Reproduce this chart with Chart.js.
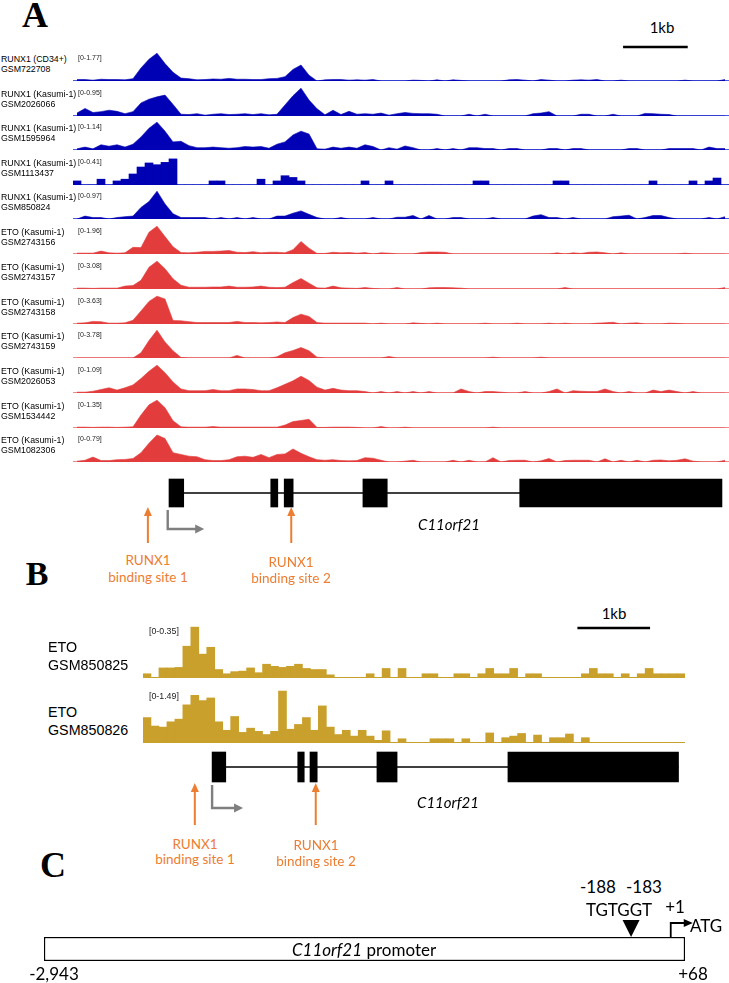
<!DOCTYPE html>
<html>
<head>
<meta charset="utf-8">
<script src="https://cdn.jsdelivr.net/npm/chart.js@4.4.1/dist/chart.umd.min.js"></script>
<style>
  html, body { margin: 0; padding: 0; background: #fff; }
  #page { position: relative; width: 729px; height: 983px; overflow: hidden; color: #000;
          font-family: "Liberation Sans", Arial, sans-serif; }
  .box { position: absolute; }
  .t { position: absolute; white-space: nowrap; line-height: 1; }
</style>
</head>
<body>
<div id="page"></div>
<script>
/* C11orf21 locus: ChIP-seq tracks (A, B) and promoter schematic (C).
   Track values are signal per 8 px bin, in tenths of each track's data range. */

// ---- panel A: RUNX1 tracks ----
var RUNX1_GSM722708 = [0.5,0.5,0.3,0.6,0.5,0.5,0.4,0.8,4.5,7.5,9.6,6,3,1,
  0.8,0.4,0.5,0.7,0.6,0.9,0.6,0.6,0.5,0.5,0.8,0.9,1.5,4,5.5,2,0,0.4,0.5,0.5,0.3,0.4,
  0.3,0.5,0,0,0,0,0.3,0.2,0,0.4,0,0.4,0.2,0,0,0,0,0,0.4,0.5,0.3,0,0.5,0.3,
  0,0,0.3,0.4,0.3,0.5,0,0,0.3,0,0,0,0,0,0,0,0.3,0,0,0,0,0.5];
var RUNX1_GSM2026066 = [1.0,2.6,1.2,1.5,2.0,1.6,0.8,1.5,4.5,5.8,6.6,7.2,4.0,0.6,
  0.5,0.8,0.3,0.6,0.8,0.5,0.6,0.8,0.5,0.8,0.4,0.6,3.8,7.0,9.6,5.5,2.5,0.4,2.0,0.5,1.6,0.6,
  0.8,0.6,1.0,0.3,0.8,1.2,0.9,0.8,0.8,0.6,0,0,0,0.6,0,0.6,0,0,0,0,
  0,0.8,1.0,1.5,0,0,0,0.6,0.6,0,0,0.6,0,0,0,0.9,0.8,0.6,0.5,0,0,0,0,0,0,0];
var RUNX1_GSM1595964 = [0.4,1.0,0.4,1.8,1.3,1.8,1.0,2.0,4.5,7.5,9.6,6.5,2.8,3.0,
  1.5,0.8,0.8,1.0,0.8,0.6,0.8,1.2,1.0,1.2,0.6,2.0,2.8,5.2,6.5,5.5,0.4,0.3,1.0,0.6,1.0,0.6,
  1.8,1.2,0,0.8,0.3,1.4,0.8,0,0,0.5,0,0.5,0,0.8,0.8,0.5,0.5,0,0.5,0.5,
  0,0,0,0.5,0.5,0,0.5,0.5,0,0,0,0,0,0.5,0.5,0,0,0,0.5,0.5,0.5,0.5,0,1.0,0.5,0.5];
var RUNX1_GSM1113437 = [1.4,0,0,2.0,0,1.4,2.0,3.8,6.2,7.6,7.0,7.8,9.0,0,
  0,0,0,1.4,1.4,0,0,0,0,2.0,0,1.4,3.2,2.6,1.4,0,0,0,0,0,0,0,
  1.4,0,0,1.4,0,0,0,0,0,0,0,0,0,0,1.4,1.4,0,0,0,0,
  0,0,0,0,1.4,1.4,0,0,0,0,0,0,0,0,0,0,1.4,0,0,0,0,1.4,0,1.4,2.4,0];
var RUNX1_GSM850824 = [0,1.0,0.5,0.5,0,0.5,0.8,1.0,4.0,6.0,9.6,5.2,1.8,0.5,
  0.5,0.5,0.5,0,0.5,0,0.5,0,0.5,0,0,1.0,1.0,2.0,2.8,1.6,0.5,0,0,0.5,0,0,
  0,0.5,0,0,0.6,0.6,1.2,0,1.2,0,0,0.5,0.5,0,0,0,0.5,0,0,0,
  0,1.0,1.5,0.5,0.5,0,0.5,0,0,0,0,0.8,1.0,1.3,0,0.5,1.2,1.2,0.5,0,0,0,0,0.5,0,0.8];

// ---- panel A: ETO tracks ----
var ETO_GSM2743156 = [0.3,0.3,0.3,1.0,0.4,0.3,0.4,2.3,2.2,7.5,9.6,6.0,2.5,0.5,
  0.4,0.6,0.9,0.9,1.0,1.2,0.6,0.5,0.8,0.4,0.6,0.6,0.4,1.5,4.3,2.0,0.2,0.2,0.6,0.4,0.5,0.3,
  0.5,0,0.4,0.3,0,0,0,0.5,0.7,0.7,0.6,0,0,0,0,0,0,0,0,0,
  0,0,0,0,0.4,0,0.4,0.2,0.6,0.7,0.4,0,0.4,0,0,0,0,0,0,0,0.3,0,0,0,0,0];
var ETO_GSM2743157 = [0.3,0.3,0.2,0.3,0.3,0.3,1.0,1.2,3.0,7.5,9.6,7.0,3.5,1.3,
  0.6,0.6,0.6,0.7,0.7,1.0,0.6,0.6,0.7,1.0,0.6,0.5,0.6,2.2,3.6,2.0,0.4,0.3,1.0,0.4,0.3,0.2,
  0.5,0.2,0,0,0.5,0,0,0,0.4,0.5,0.5,0.4,0.3,0,0,0,0,0,0,0,
  0,0,0,0,0,0.5,0,0,0,0,0,0,0,0,0,0,0,0,0,0,0,0,0,0,0,0.5];
var ETO_GSM2743158 = [0.3,0.4,0.9,0.8,0.3,0.3,0.4,1.3,4.5,7.8,9.6,8.6,1.2,1.1,
  0.8,0.5,0.5,0.5,0.5,0.5,0.9,0.5,0.5,0.4,0.5,0.7,0.5,2.2,3.4,2.6,0.5,0.3,0.3,0.3,0.3,0.3,
  0.3,0,0.3,0,0,0,0.4,0.2,0,0.3,0,0,0,0,0,0.3,0,0,0,0.3,
  0,0,0,0.3,0,0.3,0,0,0,0.3,0.4,0.6,0,0.3,0.4,0,0,0,0.3,0.2,0,0,0,0,0,0];
var ETO_GSM2743159 = [0,0,0,0,0,0,0,0,1.8,6.0,9.6,5.5,2.5,0.2,
  0,0,0,0,0,0,0.9,0,0,0,0,0.4,1.8,2.6,3.6,2.5,0.3,0,0,0,0,0,
  0,0,0,0.5,0,0,0,0,0,0,0,0,0,0,0,0,0.3,0,0,0,
  0,0,0.3,0,0,0,0,0,0,0,0,0,0,0,0,0,0,0,0,0,0,0,0,0,0,0];
var ETO_GSM2026053 = [0.3,0.3,0.6,1.2,1.8,1.0,1.8,2.8,5.0,7.5,9.6,7.0,3.8,1.4,
  0.8,0.8,0.8,1.2,0.8,0.8,1.4,1.4,1.2,0.8,0.8,1.8,3.0,4.2,5.8,4.3,2.0,1.0,1.6,1.0,0.8,0.8,
  0.5,0,0.5,0,0.5,0,0.5,0,0.5,0,0,0,1.4,0.5,0,0.5,0.5,0.3,0,0,
  0.5,0,0,0.5,1.4,0,0.8,0.6,0.5,0.5,1.4,0.5,0,0.5,0,0,1.0,0.5,1.0,0.5,0,0.5,0,0,0,0];
var ETO_GSM1534442 = [0.3,0.3,0.2,0.3,0.3,0.2,0.3,0.4,4.5,8.0,9.6,7.0,2.5,0.4,
  0.3,0.3,0.3,0.5,0.3,0.3,0.3,0.3,0.3,0.3,0.3,0.3,1.0,2.2,2.6,3.0,0.2,0.2,0.3,0.3,0.3,0.2,
  0,0,0.5,0,0,0.3,0,0,0,0,0,0,0,0,0,0,0.3,0,0,0,
  0,0,0,0,0,0,0,0,0,0,0,0,0,0,0,0,0,0,0,0,0,0,0,0,0,0];
var ETO_GSM1082306 = [0.3,0.6,1.7,0.5,0.5,0.8,0.9,1.2,3.2,6.5,9.3,8.1,3.2,2.6,
  2.0,1.8,0.8,0.5,0.5,0.8,1.8,2.0,1.6,2.6,1.5,2.6,2.8,4.5,3.0,1.8,0.8,0.6,0.8,0.5,0.4,0.5,
  1.5,1.3,0.6,0,0,0.3,0.6,0,0,0,0,0.6,0,0.6,0,0,1.5,0,0.5,0.6,
  0.6,0,0.4,1.2,0,0.5,0.6,0.6,0.6,0,1.1,0,0.6,0,0.6,0,0.6,0.7,0.4,0.6,1.1,0.3,0,0,0,0.6];

var TRACK_A_FACTOR = ["RUNX1 (CD34+)", "RUNX1 (Kasumi-1)", "RUNX1 (Kasumi-1)", "RUNX1 (Kasumi-1)",
  "RUNX1 (Kasumi-1)", "ETO (Kasumi-1)", "ETO (Kasumi-1)", "ETO (Kasumi-1)", "ETO (Kasumi-1)",
  "ETO (Kasumi-1)", "ETO (Kasumi-1)", "ETO (Kasumi-1)"];
var TRACK_A_GSM = ["GSM722708", "GSM2026066", "GSM1595964", "GSM1113437", "GSM850824",
  "GSM2743156", "GSM2743157", "GSM2743158", "GSM2743159", "GSM2026053", "GSM1534442", "GSM1082306"];
var TRACK_A_RANGE = ["[0-1.77]", "[0-0.95]", "[0-1.14]", "[0-0.41]", "[0-0.97]", "[0-1.96]",
  "[0-3.08]", "[0-3.63]", "[0-3.78]", "[0-1.09]", "[0-1.35]", "[0-0.79]"];
var TRACK_A_VALUES = [RUNX1_GSM722708, RUNX1_GSM2026066, RUNX1_GSM1595964, RUNX1_GSM1113437,
  RUNX1_GSM850824, ETO_GSM2743156, ETO_GSM2743157, ETO_GSM2743158, ETO_GSM2743159,
  ETO_GSM2026053, ETO_GSM1534442, ETO_GSM1082306];
// GSM1113437 is binned coarsely in the source, so it keeps a block (bar) look
var TRACK_A_BLOCKY = [false, false, false, true, false, false, false, false, false, false, false, false];

// ---- panel B: ETO tracks ----
var ETO_GSM850825 = [0.8,0,1.9,1.9,2.0,6.0,9.6,4.5,5.8,1.6,
  0.8,1.2,1.3,1.9,1.0,2.6,2.2,2.0,2.2,2.6,1.8,1.6,1.6,0.6,0,0,0,0,0.8,0,
  1.8,0,1.8,0,0,0.8,0.8,0,0,0.8,0.8,0,0.8,1.8,0.8,0.8,1.8,0,0.8,0.8,
  0,0,0,0,0,0.8,1.8,0.8,0.8,0,0.8,0,0.8,1.8,0.8,0.8,0.8,0.8];
var ETO_GSM850826 = [4.8,3.2,3.0,4.0,4.5,7.2,9.0,8.0,8.5,4.0,
  2.4,5.0,2.0,2.8,2.2,1.6,2.2,9.8,2.6,3.5,4.8,2.4,7.0,3.0,1.6,2.4,1.3,2.4,1.3,0.5,
  2.3,0,0.8,0,0,0,0.8,0.8,0.8,0,0.8,0,0,1.9,0,1.0,1.3,1.8,0,1.5,
  0,1.0,1.0,1.7,0,1.0,0,0,0,0,0,0,0,0,0,0,0,0];
var TRACK_B_GSM = ["GSM850825", "GSM850826"];
var TRACK_B_RANGE = ["[0-0.35]", "[0-1.49]"];
var TRACK_B_VALUES = [ETO_GSM850825, ETO_GSM850826];

// ---- gene model, kb from the left edge of each panel's window ----
var SPAN_A_KB = 10.25, SPAN_B_KB = 7.53;
var EXONS_A = [[1.50, 1.73], [3.09, 3.20], [3.30, 3.44], [4.53, 4.91], [6.98, 10.14]];
var EXONS_B = [[0.96, 1.15], [2.15, 2.24], [2.32, 2.42], [3.25, 3.53], [5.07, 7.44]];
var TSS_A = [1.48, 2.05], TSS_B = [0.96, 1.39];          // start, arrow end
var SITES_A = [1.17, 3.41], SITES_B = [0.72, 2.40];      // RUNX1 binding sites 1, 2
var SCALEBAR_A = [8.6, 9.6], SCALEBAR_B = [6.04, 7.04];  // 1 kb

// ---- panel C: promoter, bp relative to ATG ----
var PROMOTER = [-2943, 68];
var MOTIF = [-188, -183];   // TGTGGT
var START_BP = 1;

// ---- layout ----
var BASE_A = [80, 115, 149, 184, 218, 253, 288, 323, 357, 392, 427, 461];
var BASE_B = [677, 742];
var BLUE = "#0000b4", BLUE_LINE = "#4a5ae0";
var RED = "#e33c3c", RED_LINE = "#f08a8a";
var GOLD = "#c9a02c";
var ORANGE = "#ed7d31", GREY = "#7f7f7f";
var CAL = "Lato, 'Open Sans', sans-serif";

var page = document.getElementById("page");

function canvasAt(x, y, w, h) {
  var d = document.createElement("div");
  d.className = "box";
  d.style.left = x + "px"; d.style.top = y + "px";
  d.style.width = w + "px"; d.style.height = h + "px";
  var c = document.createElement("canvas");
  d.appendChild(c);
  page.appendChild(d);
  return c;
}

function text(str, x, y, size, o) {
  o = o || {};
  var s = document.createElement("div");
  s.className = "t";
  s.innerHTML = str;
  s.style.left = x + "px"; s.style.top = y + "px";
  s.style.fontSize = size + "px";
  if (o.font) s.style.fontFamily = o.font;
  if (o.color) s.style.color = o.color;
  if (o.bold) s.style.fontWeight = "bold";
  if (o.italic) s.style.fontStyle = "italic";
  s.style.transform = o.left ? "translateY(-50%)" : "translate(-50%, -50%)";
  page.appendChild(s);
}

var baseline = {
  id: "baseline",
  beforeDatasetsDraw: function (chart, args, opts) {
    var ctx = chart.ctx, a = chart.chartArea;
    var y = chart.scales.y.getPixelForValue(0) - 0.5;
    ctx.save();
    ctx.strokeStyle = opts.color; ctx.lineWidth = opts.width || 1.2;
    ctx.beginPath(); ctx.moveTo(a.left, y); ctx.lineTo(a.right, y); ctx.stroke();
    ctx.restore();
  }
};

// bars for blocky signal, a filled area for smoother coverage
function trackChart(c, values, color, lineColor, blocky) {
  var ds = blocky
    ? { type: "bar", data: values, backgroundColor: color, borderWidth: 0, barPercentage: 1, categoryPercentage: 1 }
    : { type: "line", data: values, backgroundColor: color, borderColor: color, borderWidth: 0.6,
        pointRadius: 0, tension: 0, fill: "origin" };
  return new Chart(c, {
    type: "bar",
    data: { labels: values.map(function (_, i) { return i; }), datasets: [ds] },
    options: {
      responsive: true, maintainAspectRatio: false, animation: false, events: [],
      plugins: { legend: { display: false }, tooltip: { enabled: false },
                 baseline: { color: lineColor } },
      scales: { x: { display: false, offset: true }, y: { display: false, min: 0, max: 10 } }
    },
    plugins: [baseline]
  });
}

function arrowHead(ctx, x, y, dir, len, half) {
  ctx.beginPath();
  if (dir === "up") { ctx.moveTo(x, y); ctx.lineTo(x - half, y + len); ctx.lineTo(x + half, y + len); }
  else if (dir === "right") { ctx.moveTo(x, y); ctx.lineTo(x - len, y - half); ctx.lineTo(x - len, y + half); }
  else { ctx.moveTo(x, y); ctx.lineTo(x - half, y - len); ctx.lineTo(x + half, y - len); }
  ctx.closePath(); ctx.fill();
}

var geneDecor = {
  id: "geneDecor",
  beforeDatasetsDraw: function (chart, args, o) {
    var ctx = chart.ctx, x = chart.scales.x, bar = chart.getDatasetMeta(0).data[0];
    ctx.save();
    ctx.strokeStyle = "#000"; ctx.lineWidth = 1.3;
    ctx.beginPath();
    ctx.moveTo(x.getPixelForValue(o.intron[0]), bar.y);
    ctx.lineTo(x.getPixelForValue(o.intron[1]), bar.y);
    ctx.stroke();
    ctx.restore();
  },
  afterDatasetsDraw: function (chart, args, o) {
    var ctx = chart.ctx, x = chart.scales.x, bar = chart.getDatasetMeta(0).data[0];
    var yb = bar.y + bar.height / 2;
    ctx.save();
    // transcription start
    var tx = x.getPixelForValue(o.tss[0]), tx2 = x.getPixelForValue(o.tss[1]);
    var ty = yb + o.tssDrop;
    ctx.strokeStyle = GREY; ctx.fillStyle = GREY; ctx.lineWidth = 2.4;
    ctx.beginPath(); ctx.moveTo(tx, yb + 3); ctx.lineTo(tx, ty); ctx.lineTo(tx2 - 7, ty); ctx.stroke();
    arrowHead(ctx, tx2, ty, "right", 9, 4.5);
    // RUNX1 binding sites
    ctx.strokeStyle = ORANGE; ctx.fillStyle = ORANGE; ctx.lineWidth = 2;
    o.sites.forEach(function (s) {
      var sx = x.getPixelForValue(s);
      ctx.beginPath(); ctx.moveTo(sx, yb + o.siteLen); ctx.lineTo(sx, yb + o.siteGap + 6); ctx.stroke();
      arrowHead(ctx, sx, yb + o.siteGap, "up", 9, 4);
    });
    ctx.restore();
  }
};

function geneChart(c, exons, span, thick, padBottom, decor) {
  return new Chart(c, {
    type: "bar",
    data: {
      labels: ["C11orf21"],
      datasets: [{
        data: exons.map(function (e) { return { x: e, y: "C11orf21" }; }),
        backgroundColor: "#000", borderWidth: 0, barThickness: thick, grouped: false
      }]
    },
    options: {
      indexAxis: "y",
      responsive: true, maintainAspectRatio: false, animation: false, events: [],
      layout: { padding: { bottom: padBottom } },
      plugins: { legend: { display: false }, tooltip: { enabled: false }, geneDecor: decor },
      scales: { x: { type: "linear", display: false, min: 0, max: span }, y: { display: false } }
    },
    plugins: [geneDecor]
  });
}

function scaleBar(c, bar, span) {
  return new Chart(c, {
    type: "bar",
    data: { labels: ["1kb"], datasets: [{ data: [{ x: bar, y: "1kb" }], backgroundColor: "#000",
                                          borderWidth: 0, barThickness: 1.6 }] },
    options: {
      indexAxis: "y", responsive: true, maintainAspectRatio: false, animation: false, events: [],
      plugins: { legend: { display: false }, tooltip: { enabled: false } },
      scales: { x: { type: "linear", display: false, min: 0, max: span }, y: { display: false } }
    }
  });
}

/* ---------------- panel A ---------------- */
text("A", 35, 15, 36, { font: "'Liberation Serif', serif", bold: true });
scaleBar(canvasAt(73, 44, 656, 6), SCALEBAR_A, SPAN_A_KB);
text("1kb", 662, 27, 15, { font: CAL });

TRACK_A_VALUES.forEach(function (vals, i) {
  var b = BASE_A[i], isRunx = i < 5;
  trackChart(canvasAt(73, b - 28, 656, 29), vals, isRunx ? BLUE : RED, isRunx ? BLUE_LINE : RED_LINE,
             TRACK_A_BLOCKY[i]);
  text(TRACK_A_FACTOR[i], 1, b - 21.5, 8.8, { left: true });
  text(TRACK_A_GSM[i], 1, b - 11, 8.8, { left: true });
  text(TRACK_A_RANGE[i], 78, b - 23, 7, { left: true, color: "#222" });
});

geneChart(canvasAt(73, 474, 656, 75), EXONS_A, SPAN_A_KB, 28, 37,
  { intron: [EXONS_A[0][0], EXONS_A[EXONS_A.length - 1][1]], tss: TSS_A, tssDrop: 22,
    sites: SITES_A, siteGap: 0, siteLen: 36 });
text("C11orf21", 449, 524, 15, { font: CAL, italic: true });
text("RUNX1", 148, 561, 13.5, { font: CAL, color: ORANGE });
text("binding site 1", 148, 578, 13.5, { font: CAL, color: ORANGE });
text("RUNX1", 291, 563, 13.5, { font: CAL, color: ORANGE });
text("binding site 2", 291, 579, 13.5, { font: CAL, color: ORANGE });

/* ---------------- panel B ---------------- */
text("B", 37, 574, 34, { font: "'Liberation Serif', serif", bold: true });
scaleBar(canvasAt(143, 625, 542, 6), SCALEBAR_B, SPAN_B_KB);
text("1kb", 614, 613, 15, { font: CAL });

TRACK_B_VALUES.forEach(function (vals, i) {
  var b = BASE_B[i];
  trackChart(canvasAt(143, b - 52, 542, 53), vals, GOLD, GOLD, true);
  text("ETO", 48, b - 30, 14.3, { left: true });
  text(TRACK_B_GSM[i], 48, b - 12, 14.3, { left: true });
  text(TRACK_B_RANGE[i], 149, b - 46, 8.8, { left: true, color: "#222" });
});

geneChart(canvasAt(143, 748, 542, 82), EXONS_B, SPAN_B_KB, 30, 44,
  { intron: [EXONS_B[0][0], EXONS_B[EXONS_B.length - 1][1]], tss: TSS_B, tssDrop: 26,
    sites: SITES_B, siteGap: 1, siteLen: 43 });
text("C11orf21", 448, 802, 15, { font: CAL, italic: true });
text("RUNX1", 195, 845, 13.5, { font: CAL, color: ORANGE });
text("binding site 1", 195, 860, 13.5, { font: CAL, color: ORANGE });
text("RUNX1", 316, 846, 13.5, { font: CAL, color: ORANGE });
text("binding site 2", 316, 862, 13.5, { font: CAL, color: ORANGE });

/* ---------------- panel C ---------------- */
text("C", 53, 865, 36, { font: "'Liberation Serif', serif", bold: true });

var promoterDecor = {
  id: "promoterDecor",
  afterDatasetsDraw: function (chart) {
    var ctx = chart.ctx, x = chart.scales.x, bar = chart.getDatasetMeta(0).data[0];
    var top = bar.y - bar.height / 2;
    ctx.save();
    ctx.fillStyle = "#000"; ctx.strokeStyle = "#000";
    var mx = x.getPixelForValue((MOTIF[0] + MOTIF[1]) / 2);
    ctx.beginPath(); ctx.moveTo(mx, top); ctx.lineTo(mx - 8.5, top - 17); ctx.lineTo(mx + 8.5, top - 17);
    ctx.closePath(); ctx.fill();
    var sx = x.getPixelForValue(START_BP);
    ctx.lineWidth = 1.8;
    ctx.beginPath(); ctx.moveTo(sx, top); ctx.lineTo(sx, top - 14); ctx.lineTo(sx + 14, top - 14); ctx.stroke();
    arrowHead(ctx, sx + 22, top - 14, "right", 9, 4);
    ctx.restore();
  }
};

new Chart(canvasAt(44, 912, 660, 51), {
  type: "bar",
  data: {
    labels: ["promoter"],
    datasets: [{ data: [{ x: PROMOTER, y: "promoter" }], backgroundColor: "#fff",
                 borderColor: "#000", borderWidth: 1.5, borderSkipped: false, barThickness: 24 }]
  },
  options: {
    indexAxis: "y", responsive: true, maintainAspectRatio: false, animation: false, events: [],
    layout: { padding: { top: 25, bottom: 2, right: 19 } },
    plugins: { legend: { display: false }, tooltip: { enabled: false } },
    scales: { x: { type: "linear", display: false, min: PROMOTER[0], max: PROMOTER[1] },
              y: { display: false } }
  },
  plugins: [promoterDecor]
});

text("-188", 598, 886, 17, { font: CAL });
text("-183", 644, 886, 17, { font: CAL });
text("TGTGGT", 619, 909, 17, { font: CAL });
text("+1", 675, 906, 17, { font: CAL });
text("ATG", 690, 925, 17, { font: CAL, left: true });
text("<i>C11orf21</i> promoter", 364, 949, 17, { font: CAL });
text("-2,943", 54, 973, 17, { font: CAL });
text("+68", 693, 973, 17, { font: CAL });
</script>
</body>
</html>
